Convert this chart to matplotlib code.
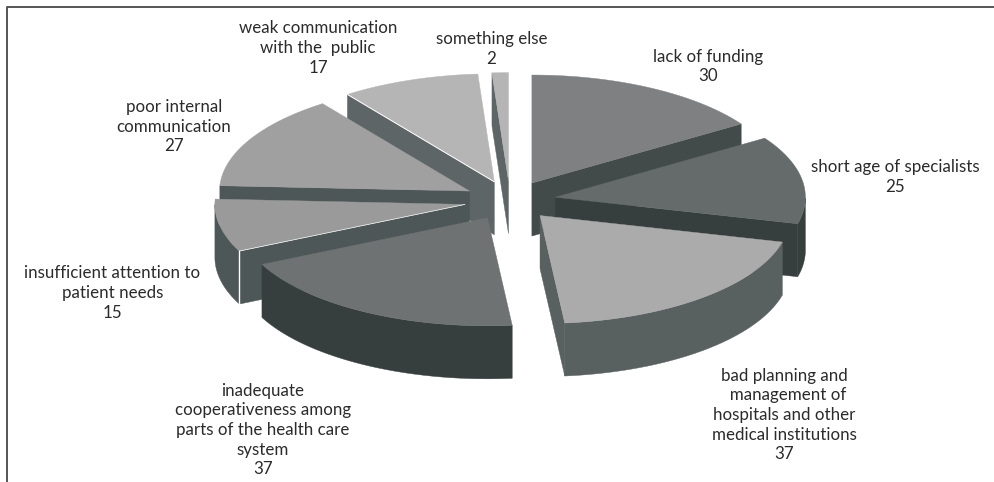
import numpy as np
import matplotlib
matplotlib.use("Agg")
import matplotlib.pyplot as plt
from matplotlib.patches import Polygon

plt.rcParams['font.family'] = ['Lato', 'DejaVu Sans']

# survey answers, clockwise from 12 o'clock
labels = ["lack of funding",
          "short age of specialists",
          "bad planning and\n  management of\nhospitals and other\nmedical institutions",
          "inadequate\ncooperativeness among\nparts of the health care\nsystem",
          "insufficient attention to\npatient needs",
          "poor internal\ncommunication",
          "weak communication\nwith the  public",
          "something else"]
values = [30, 25, 37, 37, 15, 27, 17, 2]

top_colors = ["#7f8081", "#656a6b", "#ababab", "#6e7272", "#999a99", "#a0a0a0", "#b5b5b5", "#b5b5b5"]
side_colors = ["#424a4a", "#373f3e", "#586060", "#373f3e", "#4e5757", "#4e5757", "#5d6566", "#5d6566"]

# label centres in pixels
label_pos = [(708, 66.5), (895, 177), (784, 415), (263, 430), (112.5, 293), (174, 126.5), (318, 48), (491.5, 49)]

# pie geometry in pixels
cx, cy = 510, 200.5
rx, ry = 250, 108
explode = 46
depth = 53

edges = np.cumsum([0] + values) / sum(values) * 2 * np.pi


def project(theta, radius=1.0):
    return np.sin(theta) * rx * radius, -np.cos(theta) * ry * radius


fig = plt.figure(figsize=(9.95, 4.82), dpi=100)
ax = fig.add_axes([0, 0, 1, 1])
ax.set_xlim(0, 995)
ax.set_ylim(482, 0)
ax.axis("off")

# frame: only the left and top lines are on the canvas
ax.plot([7, 7, 995], [482, 6.5, 6.5], color="#555555", lw=1.4, zorder=1)

# back slices first, front ones over them
order = [7, 6, 5, 4, 0, 1, 2, 3]
z = 2
for i in order:
    t0, t1 = edges[i], edges[i + 1]
    mid = (t0 + t1) / 2
    ox, oy = project(mid, explode / rx)
    ax0 = cx + ox
    ay0 = cy + oy

    theta = np.linspace(t0, t1, 80)
    px, py = project(theta)
    px = px + ax0
    py = py + ay0

    # cut faces, only those turned towards the viewer
    for t in (t0, t1):
        visible = np.sin(t) < 0 if t == t0 else np.sin(t) > 0
        if visible:
            ex, ey = project(t)
            ax.add_patch(Polygon([(ax0, ay0), (ax0 + ex, ay0 + ey),
                                  (ax0 + ex, ay0 + ey + depth), (ax0, ay0 + depth)],
                                 fc=side_colors[i], ec=side_colors[i], lw=0.3, zorder=z))
            z += 1

    # outer rim on the front half
    front = (theta > np.pi / 2) & (theta < 3 * np.pi / 2)
    if front.any():
        fx, fy = px[front], py[front]
        rim = np.column_stack([np.r_[fx, fx[::-1]], np.r_[fy, fy[::-1] + depth]])
        ax.add_patch(Polygon(rim, fc=side_colors[i], ec=side_colors[i], lw=0.3, zorder=z))
        z += 1

    # top face
    top = np.column_stack([np.r_[ax0, px], np.r_[ay0, py]])
    ax.add_patch(Polygon(top, fc=top_colors[i], ec=top_colors[i], lw=0.3, zorder=z))
    z += 1

    # thin highlights on the two lighter cut edges
    if i == 6:
        ex, ey = project(t0)
        ax.plot([ax0, ax0 + ex], [ay0, ay0 + ey], color="white", lw=0.7, zorder=z)
        z += 1
    if i == 4:
        ex, ey = project(t0)
        ax.plot([ax0 + ex, ax0 + ex], [ay0 + ey, ay0 + ey + depth], color="white", lw=1.0, zorder=z)
        ax.plot([ax0, ax0 + ex], [ay0, ay0 + ey], color="white", lw=0.5, zorder=z)
        z += 1

for name, v, (lx, ly) in zip(labels, values, label_pos):
    ax.text(lx, ly, f"{name}\n{v}", ha="center", va="center", fontsize=12.2,
            color="#2b2b2b", linespacing=1.28, zorder=z)

fig.savefig("out.png", dpi=100)
